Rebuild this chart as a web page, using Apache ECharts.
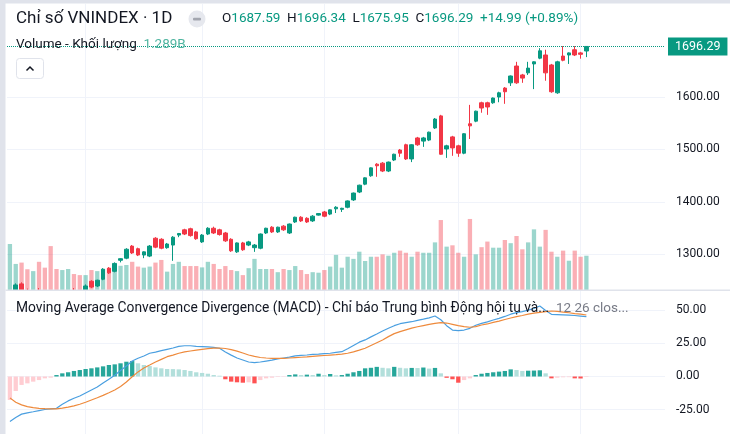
<!DOCTYPE html>
<html>
<head>
<meta charset="utf-8">
<script src="https://cdn.jsdelivr.net/npm/echarts@6/dist/echarts.min.js"></script>
<style>
  html, body { margin: 0; padding: 0; background: #fff; }
  #chart { width: 730px; height: 434px; }
</style>
</head>
<body>
<div id="chart"></div>
<script>
// daily candles, oldest first
const opens = [1222, 1228, 1244, 1228, 1216, 1230, 1222, 1212, 1208, 1200,
  1212, 1230, 1229, 1226, 1249, 1240, 1253, 1274, 1268, 1289,
  1293, 1316, 1311, 1299, 1297, 1331, 1329, 1313, 1318, 1337,
  1347, 1349, 1343, 1324, 1339, 1350, 1347, 1341, 1329, 1305,
  1322, 1318, 1313, 1312, 1341, 1352, 1343, 1354, 1341, 1362,
  1371, 1369, 1364, 1375, 1381, 1377, 1387, 1386, 1390, 1404,
  1419, 1434, 1450, 1472, 1474, 1459, 1480, 1499, 1509, 1482,
  1522, 1516, 1518, 1541, 1564, 1501, 1524, 1507, 1493, 1549,
  1554, 1589, 1589, 1589, 1600, 1617, 1627, 1659, 1642, 1646,
  1663, 1674, 1680, 1661, 1608, 1678, 1680, 1690, 1684, 1687.59];
const highs = [1230, 1245, 1247, 1235, 1228, 1236, 1226, 1218, 1212, 1215,
  1228, 1236, 1232, 1243, 1251, 1252, 1274, 1276, 1285, 1293,
  1312, 1318, 1313, 1306, 1318, 1333, 1331, 1322, 1335, 1341,
  1349, 1351, 1345, 1339, 1352, 1353, 1349, 1343, 1331, 1323,
  1324, 1326, 1320, 1340, 1351, 1354, 1353, 1356, 1359, 1372,
  1373, 1371, 1375, 1379, 1383, 1386, 1392, 1389, 1403, 1418,
  1433, 1447, 1466, 1474, 1476, 1477, 1492, 1501, 1511, 1510,
  1524, 1524, 1534, 1560, 1566, 1509, 1526, 1509, 1531, 1585,
  1574, 1591, 1591, 1599, 1610, 1619, 1641, 1667, 1644, 1667,
  1668, 1693, 1690, 1663, 1669, 1697, 1685, 1697, 1686, 1696.34];
const lows = [1215, 1226, 1222, 1215, 1210, 1218, 1210, 1195, 1194, 1196,
  1208, 1222, 1220, 1224, 1236, 1238, 1251, 1263, 1266, 1285,
  1291, 1301, 1297, 1293, 1295, 1312, 1310, 1311, 1288, 1333,
  1337, 1334, 1328, 1322, 1337, 1339, 1336, 1324, 1305, 1303,
  1307, 1316, 1305, 1310, 1339, 1341, 1341, 1345, 1339, 1360,
  1362, 1360, 1362, 1374, 1371, 1375, 1379, 1381, 1388, 1402,
  1417, 1432, 1448, 1448, 1457, 1457, 1478, 1486, 1480, 1476,
  1507, 1505, 1516, 1539, 1490, 1484, 1488, 1486, 1491, 1520,
  1552, 1570, 1566, 1587, 1590, 1587, 1621, 1625, 1627, 1642,
  1615, 1672, 1631, 1608, 1606, 1668, 1663, 1678, 1673, 1675.95];
const closes = [1228, 1242, 1225, 1218, 1226, 1220, 1212, 1198, 1201, 1212,
  1225, 1226, 1224, 1240, 1238, 1251, 1272, 1265, 1283, 1292,
  1310, 1303, 1299, 1305, 1316, 1314, 1312, 1320, 1333, 1340,
  1339, 1336, 1330, 1337, 1350, 1341, 1338, 1326, 1307, 1322,
  1309, 1324, 1318, 1339, 1350, 1343, 1352, 1347, 1358, 1371,
  1364, 1362, 1373, 1378, 1373, 1385, 1390, 1388, 1402, 1417,
  1432, 1446, 1465, 1469, 1459, 1476, 1491, 1493, 1482, 1509,
  1509, 1522, 1533, 1558, 1491, 1507, 1503, 1493, 1530, 1545,
  1573, 1579, 1581, 1598, 1608, 1610, 1640, 1627, 1636, 1655,
  1667, 1688, 1646, 1610, 1667, 1670, 1684, 1680, 1681.30, 1696.29];
// volume in billions
const volumes = [1.73, 0.98, 1.03, 0.78, 0.71, 1.06, 0.84, 1.65, 0.79, 0.75,
  0.79, 0.60, 0.56, 0.56, 0.75, 0.71, 0.78, 0.82, 0.98, 0.91,
  0.94, 1.06, 0.88, 0.84, 0.88, 1.03, 1.13, 0.69, 0.98, 1.06,
  0.90, 0.90, 0.90, 0.85, 1.06, 0.98, 0.79, 0.90, 0.75, 0.71,
  0.56, 0.82, 1.17, 0.79, 0.79, 0.79, 0.67, 0.79, 0.75, 0.90,
  0.75, 0.60, 0.67, 0.65, 0.75, 0.88, 1.32, 0.84, 1.25, 1.17,
  1.44, 1.09, 1.25, 1.25, 1.34, 1.29, 1.40, 1.48, 1.40, 1.25,
  1.44, 1.40, 1.40, 1.79, 2.63, 1.63, 1.68, 1.40, 1.25, 2.67,
  1.34, 1.61, 1.82, 1.59, 1.59, 1.88, 1.76, 2.03, 1.53, 1.79,
  2.28, 1.63, 2.26, 1.44, 1.25, 1.48, 1.10, 1.48, 1.25, 1.289];
const macdLine = [-34, -31, -28.5, -27.5, -26.7, -25.8, -25, -24.5, -24.1, -21,
  -18.5, -16.5, -14.8, -12.5, -10.2, -8, -5, -2, 1, 4.5,
  8, 11.7, 13.8, 15.5, 17.6, 18.5, 19.6, 20.6, 21.6, 22.8,
  23.3, 23.3, 22.8, 22.6, 22.4, 22, 21.4, 18.5, 16.2, 14,
  12.5, 11, 10.5, 11, 11.7, 12.4, 13.3, 14, 14.7, 15.6,
  16, 16.3, 16.8, 17, 17.3, 17.6, 18.3, 18.8, 21, 23.5,
  26, 27.7, 30, 32.2, 34.5, 36.5, 38.5, 40, 40.8, 41.5,
  42.5, 43.4, 44.4, 45.8, 43, 38.5, 35.2, 34.8, 35.2, 36.5,
  38.8, 40.2, 41.4, 42.8, 44, 45.5, 47.2, 48.4, 49.2, 50.3,
  51.5, 53.4, 50, 47.1, 46.9, 46.7, 46.5, 46.2, 45.8, 45.4];
const signalLine = [-16.2, -19.5, -21.5, -22.8, -23.6, -24.1, -24.4, -24.6, -24.5, -24,
  -23.2, -22.2, -21, -19.5, -17.8, -16.1, -14.3, -12.3, -10.2, -7.5,
  -4.2, -0.2, 3.5, 6.5, 8.7, 11, 13, 15, 16.2, 17.6,
  18.6, 19.3, 20, 20.6, 21.1, 21.5, 21.6, 21.2, 20.3, 19.2,
  17.8, 16.3, 15.2, 14.4, 14, 13.8, 13.7, 13.8, 14, 14.3,
  14.6, 14.9, 15.3, 15.6, 15.9, 16.2, 16.5, 17, 17.6, 18.7,
  20, 21.4, 23.5, 25.6, 27.7, 30.2, 32.5, 34, 35.3, 36.6,
  37.7, 38.6, 39.5, 40.3, 40.8, 40.5, 39.5, 38.5, 37.8, 37.3,
  37.8, 39, 39.8, 41, 42, 43.2, 44.3, 45.3, 46.2, 47.2,
  48, 48.6, 49.2, 49.6, 49.3, 48.8, 48.3, 47.7, 47.2, 46.6];
const histogram = [-17.8, -11, -6.4, -5.2, -3.9, -2.7, -1.4, -0.9, 1.1, 2.4,
  3.2, 4.2, 4.9, 5.7, 6.2, 6.9, 7.7, 8.7, 9.2, 10,
  11.2, 11.7, 10, 8.7, 7.9, 6.9, 6.2, 5.7, 5.6, 5.4,
  4.9, 4.2, 3.2, 2.7, 2.1, 1.1, 0.6, -2.1, -3.9, -4.4,
  -4.7, -4.4, -5.2, -2.7, -1.4, -0.9, -0.4, -0.3, 1.1, 1.6,
  1.1, 1.4, 1.1, 2.1, 1.1, 1.9, 0.9, 1.1, 2.1, 3.2,
  4.2, 6.2, 6.6, 7.3, 6.6, 6.2, 7.3, 6.6, 6.2, 6.5,
  6.4, 6.8, 6.0, 6.5, 2.4, -1, -2.1, -4.7, -2.7, -1.4,
  1.1, 2.1, 2.7, 3.2, 3.7, 4.2, 5.4, 4.9, 4.2, 4.4,
  4.5, 4.7, 2.4, -1.4, -0.9, -0.6, -0.5, -1.4, -1.5, -0.4];

const priceTicks = [1300, 1400, 1500, 1600];
const macdTicks = [-25, 0, 25, 50];
const monthStarts = [13, 33, 54, 77, 98]; // first bar of each month

const UP = '#089981', DOWN = '#f23645';
const TEXT = '#131722';
const FONT = 'Roboto, "Liberation Sans", sans-serif';

// empty slots to the right of the last bar
const padBars = 13;
const categories = [];
for (let i = 0; i < opens.length + padBars; i++) categories.push(String(i));

const n = closes.length;
const last = n - 1;
const change = closes[last] - closes[last - 1];
const changePct = change / closes[last - 1] * 100;

const candleData = opens.map((o, i) => [o, closes[i], lows[i], highs[i]]);
const volumeData = volumes.map((v, i) => ({
  value: v,
  itemStyle: { color: closes[i] >= opens[i] ? 'rgba(8,153,129,0.4)' : 'rgba(242,54,69,0.4)' }
}));
const histData = histogram.map((h, i) => {
  const prev = i > 0 ? histogram[i - 1] : -Infinity;
  let c;
  if (h >= 0) c = h >= prev ? '#26a69a' : '#b2dfdb';
  else c = h < prev ? '#ff5252' : '#ffcdd2';
  return { value: h, itemStyle: { color: c } };
});

function monthLines(z) {
  return {
    silent: true,
    z: z,
    symbol: ['none', 'none'],
    label: { show: false },
    lineStyle: { color: '#f0f3fa', type: 'solid', width: 1 },
    data: monthStarts.map(i => ({ xAxis: String(i) }))
  };
}

const tickLabel = {
  formatter: v => v.toFixed(2),
  color: TEXT, fontSize: 12, margin: 11, fontFamily: FONT,
  padding: [4, 0, 0, 0]
};

const chart = echarts.init(document.getElementById('chart'));

// z order: price pane (volume 1, candles 3) < white cover of lower pane (4) < MACD pane (5+)
const options = {
  animation: false,
  backgroundColor: '#fff',
  textStyle: { fontFamily: FONT },
  grid: [
    { left: 7, right: 65, top: 4, bottom: 144, outerBoundsMode: 'none' },
    { left: 7, right: 65, top: 291, bottom: 0, outerBoundsMode: 'none' }
  ],
  xAxis: [0, 1].map(g => ({
    type: 'category',
    gridIndex: g,
    data: categories,
    boundaryGap: true,
    axisLine: { show: false },
    axisTick: { show: false },
    axisLabel: { show: false },
    splitLine: { show: false }
  })),
  yAxis: [
    {
      gridIndex: 0,
      position: 'right',
      min: 1232.38,
      max: 1777.14,
      axisLine: { show: false },
      axisTick: { show: false, customValues: priceTicks },
      axisLabel: Object.assign({ customValues: priceTicks }, tickLabel),
      splitLine: { show: true, lineStyle: { color: '#f0f3fa', width: 1 } }
    },
    { gridIndex: 0, min: 0, max: 10.75, show: false },
    {
      gridIndex: 1,
      position: 'right',
      z: 5,
      min: -43.56,
      max: 64.77,
      axisLine: { show: false },
      axisTick: { show: false, customValues: macdTicks },
      axisLabel: Object.assign({ customValues: macdTicks }, tickLabel),
      splitLine: { show: true, lineStyle: { color: '#f0f3fa', width: 1 } }
    }
  ],
  series: [
    { type: 'line', xAxisIndex: 0, yAxisIndex: 0, data: [], z: 0, markLine: monthLines(0) },
    { type: 'line', xAxisIndex: 1, yAxisIndex: 2, data: [], z: 5, markLine: monthLines(5) },
    {
      name: 'Volume',
      type: 'bar',
      xAxisIndex: 0,
      yAxisIndex: 1,
      data: volumeData,
      barWidth: 4.3,
      z: 1
    },
    {
      name: 'VNINDEX',
      type: 'candlestick',
      xAxisIndex: 0,
      yAxisIndex: 0,
      data: candleData,
      barWidth: 4,
      z: 3,
      itemStyle: { color: UP, color0: DOWN, borderColor: UP, borderColor0: DOWN, borderWidth: 1 },
      markLine: {
        silent: true,
        z: 8,
        symbol: ['none', 'none'],
        lineStyle: { color: UP, type: 'dotted', width: 1 },
        label: {
          position: 'end',
          formatter: closes[last].toFixed(2),
          backgroundColor: UP,
          color: '#fff',
          fontSize: 12.5,
          fontFamily: FONT,
          padding: [3, 7, 2, 7],
          distance: 3
        },
        data: [{ yAxis: closes[last] }]
      }
    },
    {
      name: 'Histogram',
      type: 'bar',
      xAxisIndex: 1,
      yAxisIndex: 2,
      data: histData,
      barWidth: 4.3,
      z: 6
    },
    {
      name: 'MACD',
      type: 'line',
      xAxisIndex: 1,
      yAxisIndex: 2,
      data: macdLine,
      showSymbol: false,
      lineStyle: { color: '#4a9fe0', width: 1.2 },
      z: 7
    },
    {
      name: 'Signal',
      type: 'line',
      xAxisIndex: 1,
      yAxisIndex: 2,
      data: signalLine,
      showSymbol: false,
      lineStyle: { color: '#ee8a3c', width: 1.2 },
      z: 7
    }
  ],
  graphic: [
    // hides candle parts that fall below the price pane
    { type: 'rect', shape: { x: 5.5, y: 290, width: 725, height: 144 }, style: { fill: '#fff' }, z: 4 },
    // frame and pane separator
    { type: 'rect', shape: { x: 0, y: 0, width: 730, height: 3.5 }, style: { fill: '#e0e3eb' }, z: 50 },
    { type: 'rect', shape: { x: 0, y: 0, width: 5.5, height: 434 }, style: { fill: '#e0e3eb' }, z: 50 },
    { type: 'rect', shape: { x: 5.5, y: 289.5, width: 725, height: 1.5 }, style: { fill: '#e0e3eb' }, z: 50 },
    // legend texts
    {
      type: 'text', x: 16, y: 19, z: 60,
      style: { text: 'Chỉ số VNINDEX · 1D', fill: TEXT, fontSize: 17, fontFamily: FONT, verticalAlign: 'middle' }
    },
    { type: 'circle', shape: { cx: 197, cy: 19, r: 8.5 }, style: { fill: '#e6e8ee' }, z: 60 },
    { type: 'rect', shape: { x: 193, y: 17.8, width: 8, height: 2.6, r: 1 }, style: { fill: '#a3a6af' }, z: 61 },
    {
      type: 'text', x: 222, y: 19, z: 60,
      style: {
        text: '{k|O}{v|' + opens[last].toFixed(2) + '}  {k|H}{v|' + highs[last].toFixed(2) +
          '}  {k|L}{v|' + lows[last].toFixed(2) + '}  {k|C}{v|' + closes[last].toFixed(2) +
          '}  {v|+' + change.toFixed(2) + ' (+' + changePct.toFixed(2) + '%)}',
        verticalAlign: 'middle',
        rich: {
          k: { fill: TEXT, fontSize: 13.5, fontFamily: FONT },
          v: { fill: UP, fontSize: 13.5, fontFamily: FONT }
        }
      }
    },
    {
      type: 'text', x: 16, y: 45, z: 60,
      style: {
        text: '{n|Volume - Khối lượng}  {v|' + volumes[last].toFixed(3) + 'B}',
        verticalAlign: 'middle',
        rich: {
          n: { fill: TEXT, fontSize: 13.5, fontFamily: FONT },
          v: { fill: '#4fb5a0', fontSize: 13.5, fontFamily: FONT }
        }
      }
    },
    {
      type: 'rect', z: 60,
      shape: { x: 16.5, y: 58.5, width: 27, height: 20, r: 3 },
      style: { fill: '#fff', stroke: '#e0e3eb', lineWidth: 1 }
    },
    {
      type: 'polyline', z: 61,
      shape: { points: [[26.5, 70.5], [30, 67], [33.5, 70.5]] },
      style: { stroke: TEXT, lineWidth: 1.5, fill: null }
    },
    {
      type: 'text', x: 16, y: 309, z: 60,
      style: {
        text: '{n|Moving Average Convergence Divergence (MACD) - Chỉ báo Trung bình Động hội tụ và...}  {g|12 26 clos...}',
        verticalAlign: 'middle',
        rich: {
          n: { fill: TEXT, fontSize: 13.8, fontFamily: FONT },
          g: { fill: '#787b86', fontSize: 13.5, fontFamily: FONT }
        }
      }
    }
  ]
};

chart.setOption(options);
</script>
</body>
</html>
